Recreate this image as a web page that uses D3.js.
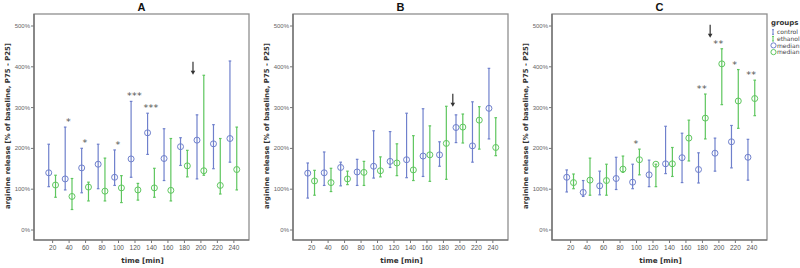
<!DOCTYPE html>
<html>
<head>
<meta charset="utf-8">
<script src="https://cdn.jsdelivr.net/npm/d3@7/dist/d3.min.js"></script>
<style>
body { margin: 0; background: #fff; }
svg { display: block; }
</style>
</head>
<body>
<script>
const W = 800, H = 268;

const times = [20, 40, 60, 80, 100, 120, 140, 160, 180, 200, 220, 240];
const yTicks = [0, 100, 200, 300, 400, 500];
const panelNames = ["A", "B", "C"];

// panel A
const aCtrlMed = [139, 124, 151, 160, 128, 173, 237, 174, 203, 219, 210, 223];
const aCtrlLo  = [105, 97, 90, 100, 108, 128, 184, 120, 157, 124, 149, 165];
const aCtrlHi  = [209, 251, 199, 209, 195, 314, 285, 247, 225, 281, 257, 413];
const aEthMed  = [109, 81, 104, 94, 102, 97, 102, 96, 156, 144, 108, 147];
const aEthLo   = [79, 49, 70, 70, 66, 72, 79, 70, 129, 133, 87, 97];
const aEthHi   = [133, 125, 116, 175, 132, 113, 150, 223, 194, 378, 223, 251];

// panel B
const bCtrlMed = [138, 139, 152, 141, 155, 167, 171, 180, 183, 250, 205, 297];
const bCtrlLo  = [77, 108, 107, 108, 126, 152, 127, 130, 155, 213, 165, 222];
const bCtrlHi  = [163, 190, 165, 172, 242, 240, 285, 296, 215, 281, 313, 395];
const bEthMed  = [119, 115, 124, 140, 144, 163, 146, 183, 211, 251, 268, 201];
const bEthLo   = [84, 93, 110, 108, 129, 132, 120, 118, 123, 212, 197, 181];
const bEthHi   = [145, 150, 143, 167, 178, 210, 230, 254, 302, 283, 301, 274];

// panel C
const cCtrlMed = [128, 91, 107, 125, 116, 134, 161, 176, 147, 187, 215, 177];
const cCtrlLo  = [92, 81, 85, 98, 100, 105, 137, 115, 114, 143, 151, 121];
const cCtrlHi  = [146, 120, 143, 177, 160, 170, 253, 236, 188, 224, 255, 221];
const cEthMed  = [115, 121, 120, 148, 171, 160, 161, 224, 273, 406, 315, 321];
const cEthLo   = [100, 84, 84, 140, 134, 105, 130, 168, 222, 306, 248, 279];
const cEthHi   = [136, 175, 160, 180, 197, 160, 201, 268, 332, 443, 392, 366];

// significance marks
const aStars = [[40, "*"], [60, "*"], [100, "*"], [120, "***"], [140, "***"]];
const bStars = [];
const cStars = [[100, "*"], [180, "**"], [200, "**"], [220, "*"], [240, "**"]];

// arrow: time, value at arrow tip
const arrowTime = [191, 192, 190];
const arrowTip = [379, 301, 470];

const legendLabels = ["control", "ethanol", "median", "median"];

const blue = "#6f80cc";
const green = "#5ec65e";

const panels = [
  { ctrl: [aCtrlMed, aCtrlLo, aCtrlHi], eth: [aEthMed, aEthLo, aEthHi], stars: aStars },
  { ctrl: [bCtrlMed, bCtrlLo, bCtrlHi], eth: [bEthMed, bEthLo, bEthHi], stars: bStars },
  { ctrl: [cCtrlMed, cCtrlLo, cCtrlHi], eth: [cEthMed, cEthLo, cEthHi], stars: cStars }
];

const lefts = [34, 293, 552];
const pw = 215;
const panelTop = 14, ph = 226;
const off = 3.4;

const svg = d3.select("body").append("svg")
  .attr("width", W)
  .attr("height", H);

const y = d3.scaleLinear()
  .domain([0, 500])
  .range([215.5, 11.5]);

panels.forEach((p, k) => {
  const g = svg.append("g")
    .attr("transform", "translate(" + lefts[k] + "," + panelTop + ")");

  const x = d3.scaleLinear()
    .domain([-2, 259])
    .range([0, pw]);

  // frame
  g.append("rect")
    .attr("x", 0).attr("y", 0)
    .attr("width", pw).attr("height", ph)
    .attr("fill", "none")
    .attr("stroke", "#8f8f8f")
    .attr("stroke-width", 1.3);
  g.append("path")
    .attr("d", `M0,0V${ph}H${pw}`)
    .attr("fill", "none")
    .attr("stroke", "#6a6a6a")
    .attr("stroke-width", 1.2);

  const yAxis = d3.axisLeft(y)
    .tickValues(yTicks)
    .tickFormat(d => d + "%")
    .tickSize(3)
    .tickPadding(1);
  const ya = g.append("g").call(yAxis);
  ya.select(".domain").remove();
  ya.selectAll("line").attr("stroke", "#777");
  ya.selectAll("text")
    .attr("fill", "#666")
    .style("font", "6px 'Liberation Sans', Arial, sans-serif");

  const xAxis = d3.axisBottom(x)
    .tickValues(times)
    .tickSize(3)
    .tickPadding(2);
  const xa = g.append("g")
    .attr("transform", "translate(0," + ph + ")")
    .call(xAxis);
  xa.select(".domain").remove();
  xa.selectAll("line").attr("stroke", "#777");
  xa.selectAll("text")
    .attr("fill", "#555")
    .style("font", "6.5px 'Liberation Sans', Arial, sans-serif");

  // titles
  g.append("text")
    .attr("x", pw / 2).attr("y", -3)
    .attr("text-anchor", "middle")
    .style("font", "bold 11px 'Liberation Sans', Arial, sans-serif")
    .attr("fill", "#111")
    .text(panelNames[k]);

  g.append("text")
    .attr("x", pw / 2 + 1).attr("y", ph + 23)
    .attr("text-anchor", "middle")
    .style("font", "bold 7.2px 'DejaVu Sans', sans-serif")
    .attr("fill", "#333")
    .text("time [min]");

  g.append("text")
    .attr("transform", "translate(-24," + (ph / 2 - 1) + ") rotate(-90)")
    .attr("text-anchor", "middle")
    .style("font", "bold 6.9px 'DejaVu Sans', sans-serif")
    .attr("fill", "#333")
    .text("arginine release [% of baseline, P75 - P25]");

  // error bars
  const groups = [
    { d: p.ctrl, dx: -off, c: blue },
    { d: p.eth, dx: off, c: green }
  ];
  groups.forEach(gr => {
    const rows = times.map((t, i) => ({ t: t, med: gr.d[0][i], lo: gr.d[1][i], hi: gr.d[2][i] }));
    const eb = g.append("g");
    eb.selectAll(".bar")
      .data(rows)
      .enter()
      .append("line")
      .attr("x1", d => x(d.t) + gr.dx)
      .attr("x2", d => x(d.t) + gr.dx)
      .attr("y1", d => y(d.lo))
      .attr("y2", d => y(d.hi))
      .attr("stroke", gr.c)
      .attr("stroke-width", 1.2);
    ["lo", "hi"].forEach(key => {
      eb.selectAll(".cap-" + key)
        .data(rows)
        .enter()
        .append("line")
        .attr("x1", d => x(d.t) + gr.dx - 1.3)
        .attr("x2", d => x(d.t) + gr.dx + 1.3)
        .attr("y1", d => y(d[key]))
        .attr("y2", d => y(d[key]))
        .attr("stroke", gr.c)
        .attr("stroke-width", 1.2);
    });
    eb.selectAll("circle")
      .data(rows)
      .enter()
      .append("circle")
      .attr("cx", d => x(d.t) + gr.dx)
      .attr("cy", d => y(d.med))
      .attr("r", 3)
      .attr("fill", "none")
      .attr("stroke", gr.c)
      .attr("stroke-width", 1);
  });

  // stars
  g.selectAll(".star")
    .data(p.stars)
    .enter()
    .append("text")
    .attr("x", d => x(d[0]))
    .attr("y", d => {
      const i = times.indexOf(d[0]);
      return y(Math.max(p.ctrl[2][i], p.eth[2][i])) - 2;
    })
    .attr("text-anchor", "middle")
    .attr("fill", "#555")
    .style("font", "9.5px 'DejaVu Sans', sans-serif")
    .style("letter-spacing", "0.3px")
    .text(d => d[1]);

  // arrow
  const ax = x(arrowTime[k]), ay = y(arrowTip[k]);
  g.append("line")
    .attr("x1", ax).attr("x2", ax)
    .attr("y1", ay - 13).attr("y2", ay - 3)
    .attr("stroke", "#333")
    .attr("stroke-width", 1.2);
  g.append("path")
    .attr("d", `M${ax - 2.3},${ay - 4}L${ax + 2.3},${ay - 4}L${ax},${ay}Z`)
    .attr("fill", "#333");
});

// legend
const lg = svg.append("g").attr("transform", "translate(771,0)");
lg.append("text")
  .attr("x", 0).attr("y", 25)
  .style("font", "bold 7px 'DejaVu Sans', sans-serif")
  .attr("fill", "#333")
  .text("groups");
legendLabels.forEach((lab, i) => {
  const cy = 32 + i * 6.7;
  const c = i % 2 === 0 ? blue : green;
  const it = lg.append("g");
  if (i < 2) {
    it.append("line").attr("x1", 2).attr("x2", 2).attr("y1", cy - 2.3).attr("y2", cy + 2.3).attr("stroke", c);
    it.append("line").attr("x1", 1).attr("x2", 3).attr("y1", cy - 2.3).attr("y2", cy - 2.3).attr("stroke", c);
    it.append("line").attr("x1", 1).attr("x2", 3).attr("y1", cy + 2.3).attr("y2", cy + 2.3).attr("stroke", c);
  } else {
    it.append("circle").attr("cx", 2.5).attr("cy", cy).attr("r", 2.6)
      .attr("fill", "none").attr("stroke", c);
  }
  it.append("text")
    .attr("x", 6).attr("y", cy + 2.2)
    .style("font", "6px 'DejaVu Sans', sans-serif")
    .attr("fill", "#444")
    .text(lab);
});
</script>
</body>
</html>
